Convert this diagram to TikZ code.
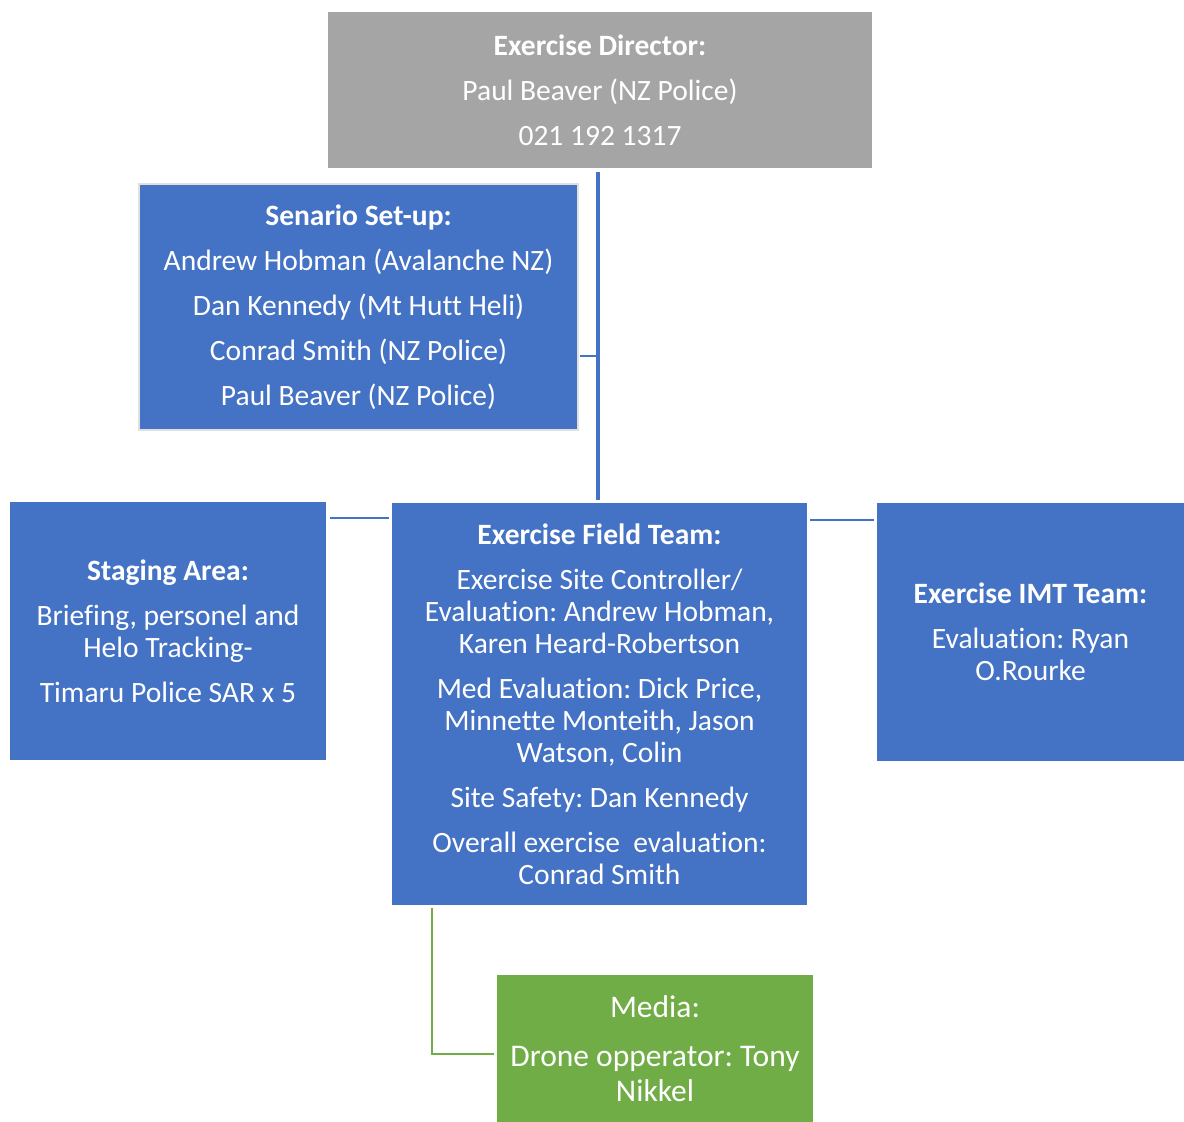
\documentclass[tikz,border=0pt]{standalone}
\usepackage{fontspec}
\setmainfont{Carlito}[Ligatures=NoCommon]
\usepackage{xcolor}
\usepackage{tikz}
\usetikzlibrary{positioning,calc}
\definecolor{orgblue}{HTML}{4472C4}
\definecolor{orggray}{HTML}{A5A5A5}
\definecolor{orggreen}{HTML}{70AD47}
\frenchspacing
\begin{document}
\begin{tikzpicture}[x=1pt,y=-1pt]
  \tikzstyle{box}=[rectangle,inner sep=0pt,align=center,text=white,
    font=\fontsize{29.5}{32}\selectfont]
  \tikzstyle{blueline}=[draw=orgblue,line width=2.2pt]
  \useasboundingbox (0,0) rectangle (1184,1122);
  \node[box,fill=orggray,minimum width=544,minimum height=156] (director) at (600,90)
    {\textbf{Exercise Director:}\\[13pt]Paul Beaver (NZ Police)\\[13pt]021 192 1317};
  \node[box,fill=orgblue,draw=black!12,line width=2pt,minimum width=439,minimum height=246] (senario) at (358.5,307)
    {\textbf{Senario Set-up:}\\[13pt]Andrew Hobman (Avalanche NZ)\\[13pt]Dan Kennedy (Mt Hutt Heli)\\[13pt]Conrad Smith (NZ Police)\\[13pt]Paul Beaver (NZ Police)};
  \node[box,fill=orgblue,minimum width=316,minimum height=258] (staging) at (168,631)
    {\textbf{Staging Area:}\\[13pt]Briefing, personel and\\Helo Tracking-\\[13pt]Timaru Police SAR x 5};
  \node[box,fill=orgblue,minimum width=415,minimum height=402] (field) at (599.5,704)
    {\textbf{Exercise Field Team:}\\[13pt]Exercise Site Controller/\\Evaluation: Andrew Hobman,\\Karen Heard-Robertson\\[13pt]Med Evaluation: Dick Price,\\Minnette Monteith, Jason\\Watson, Colin\\[13pt]Site Safety: Dan Kennedy\\[13pt]Overall exercise\ \ evaluation:\\Conrad Smith};
  \node[box,fill=orgblue,minimum width=307,minimum height=258] (imt) at (1030.5,632)
    {\textbf{Exercise IMT Team:}\\[13pt]Evaluation: Ryan\\O.Rourke};
  \node[box,fill=orggreen,minimum width=316,minimum height=147,font=\fontsize{31.5}{35}\selectfont] (media) at (655,1048.5)
    {Media:\\[14pt]Drone opperator: Tony\\Nikkel};
  \draw[blueline,line width=3.5pt,shorten <=4pt,shorten >=3pt] (director.south -| 598,0) -- (field.north -| 598,0);
  \coordinate (s) at ($(senario.east)+(1,49)$);
  \draw[blueline] (s) -- (s -| 598,0);
  \coordinate (l) at ($(staging.north east)+(4,16)$);
  \draw[blueline] (l) -- ([xshift=-3pt]l -| field.west);
  \coordinate (r) at ($(imt.north west)+(-3,17)$);
  \draw[blueline] (r) -- ([xshift=3pt]r -| field.east);
  \coordinate (g) at ($(field.south west)+(40,3)$);
  \draw[draw=orggreen,line width=2.5pt] (g) |- ($(media.west)+(-3,5.5)$);
\end{tikzpicture}
\end{document}
